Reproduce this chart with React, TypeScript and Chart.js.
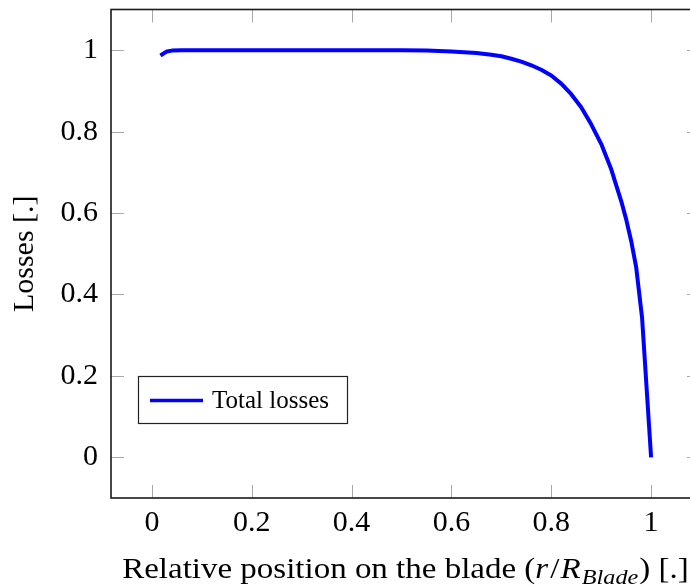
import React, { useEffect, useRef } from "react";
import { Chart, registerables } from "chart.js";

Chart.register(...registerables);

const positions = [0.017, 0.03, 0.04, 0.06, 0.1, 0.2, 0.3, 0.4, 0.5, 0.55, 0.6, 0.65, 0.68, 0.7, 0.72, 0.74, 0.76, 0.78, 0.8, 0.82, 0.84, 0.86, 0.88, 0.9, 0.92, 0.94, 0.95, 0.96, 0.97, 0.982, 1.0];
const losses = [0.987, 0.997, 0.999, 1.0, 1.0, 1.0, 1.0, 1.0, 1.0, 0.999, 0.997, 0.993, 0.989, 0.985, 0.979, 0.972, 0.963, 0.952, 0.938, 0.918, 0.892, 0.86, 0.818, 0.77, 0.708, 0.63, 0.585, 0.532, 0.468, 0.342, 0.0];
const xTicks = [0, 0.2, 0.4, 0.6, 0.8, 1];
const yTicks = [0, 0.2, 0.4, 0.6, 0.8, 1];
const seriesLabel = "Total losses";
const yTitle = "Losses [.]";

const FONT = "'Liberation Serif', 'DejaVu Serif', serif";

const framePlugin = {
  id: "frame",
  afterDraw(chart: any) {
    const { ctx, chartArea: a, scales } = chart;
    const xs = scales.x;
    const ys = scales.y;
    ctx.save();
    // inner ticks
    ctx.strokeStyle = "#a8a8a8";
    ctx.lineWidth = 1;
    const tl = 13;
    ctx.beginPath();
    for (const v of xTicks) {
      const px = Math.round(xs.getPixelForValue(v)) + 0.5;
      ctx.moveTo(px, a.bottom);
      ctx.lineTo(px, a.bottom - tl);
      ctx.moveTo(px, a.top);
      ctx.lineTo(px, a.top + tl);
    }
    for (const v of yTicks) {
      const py = Math.round(ys.getPixelForValue(v)) + 0.5;
      ctx.moveTo(a.left, py);
      ctx.lineTo(a.left + tl, py);
      ctx.moveTo(a.right, py);
      ctx.lineTo(a.right - tl, py);
    }
    ctx.stroke();
    // border
    ctx.strokeStyle = "#1a1a1a";
    ctx.lineWidth = 1.6;
    ctx.strokeRect(a.left, a.top, a.right - a.left, a.bottom - a.top);

    // legend
    const lx = a.left + 27;
    const ly = a.bottom - 122;
    const lw = 209;
    const lh = 47;
    ctx.fillStyle = "#ffffff";
    ctx.fillRect(lx, ly, lw, lh);
    ctx.strokeStyle = "#222";
    ctx.lineWidth = 1.2;
    ctx.strokeRect(lx + 0.5, ly + 0.5, lw, lh);
    ctx.strokeStyle = "#0000ff";
    ctx.lineWidth = 3.5;
    ctx.beginPath();
    ctx.moveTo(lx + 12, ly + 24.5);
    ctx.lineTo(lx + 65, ly + 24.5);
    ctx.stroke();
    ctx.fillStyle = "#000";
    ctx.font = `25px ${FONT}`;
    ctx.textBaseline = "middle";
    ctx.textAlign = "left";
    ctx.fillText(seriesLabel, lx + 74, ly + 25);

    // y title
    ctx.save();
    ctx.translate(25, (a.top + a.bottom) / 2);
    ctx.rotate(-Math.PI / 2);
    ctx.font = `30px ${FONT}`;
    ctx.textAlign = "center";
    ctx.textBaseline = "middle";
    ctx.fillText(yTitle, 0, 0);
    ctx.restore();

    // x title with math segments
    const base = 578;
    const segs: [string, string, number, number][] = [
      ["Relative position on the blade (", `30px ${FONT}`, 0, 0],
      ["r", `italic 30px ${FONT}`, 0, 2],
      ["/", `30px ${FONT}`, 0, 1],
      ["R", `italic 30px ${FONT}`, 0, 1],
      ["Blade", `italic 22px ${FONT}`, 6, 1],
      [") [.]", `30px ${FONT}`, 0, 0],
    ];
    let total = 0;
    for (const s of segs) {
      ctx.font = s[1];
      total += ctx.measureText(s[0]).width + s[3];
    }
    const target = (a.right - a.left) * 0.962;
    const k = target / total;
    const start = (a.left + a.right) / 2 - target / 2;
    ctx.translate(start, base);
    ctx.scale(k, 1);
    let cx = 0;
    ctx.textAlign = "left";
    ctx.textBaseline = "alphabetic";
    for (const s of segs) {
      ctx.font = s[1];
      ctx.fillText(s[0], cx, s[2]);
      cx += ctx.measureText(s[0]).width + s[3];
    }
    ctx.restore();
  },
};

export default function App() {
  const ref = useRef<HTMLCanvasElement>(null);
  useEffect(() => {
    if (!ref.current) return;
    const chart = new Chart(ref.current, {
      type: "line",
      data: {
        datasets: [
          {
            label: seriesLabel,
            data: positions.map((x, i) => ({ x, y: losses[i] })),
            borderColor: "#0000ff",
            borderWidth: 4,
            pointRadius: 0,
            tension: 0,
            fill: false,
            borderJoinStyle: "round",
          },
        ],
      },
      options: {
        animation: false,
        responsive: false,
        maintainAspectRatio: false,
        layout: { padding: { left: 0, top: 9.5, right: 20, bottom: 0 } },
        plugins: { legend: { display: false }, tooltip: { enabled: false } },
        scales: {
          x: {
            type: "linear",
            min: -0.082,
            max: 1.098,
            afterFit: (s: any) => {
              s.height = 87;
              s.paddingLeft = 0;
              s.paddingRight = 0;
            },
            afterBuildTicks: (s: any) => {
              s.ticks = xTicks.map((v) => ({ value: v }));
            },
            grid: { display: false, drawTicks: false },
            border: { display: false },
            ticks: {
              padding: 7,
              color: "#000",
              font: { family: FONT, size: 30 },
              callback: (v: any) => String(v),
            },
          },
          y: {
            type: "linear",
            min: -0.1,
            max: 1.1,
            afterFit: (s: any) => {
              s.width = 111;
              s.paddingTop = 0;
              s.paddingBottom = 0;
            },
            afterBuildTicks: (s: any) => {
              s.ticks = yTicks.map((v) => ({ value: v }));
            },
            grid: { display: false, drawTicks: false },
            border: { display: false },
            ticks: {
              padding: 13,
              color: "#000",
              font: { family: FONT, size: 30 },
              callback: (v: any) => String(v),
            },
          },
        },
      },
      plugins: [framePlugin],
    });
    return () => chart.destroy();
  }, []);
  return (
    <div
      style={{
        position: "fixed",
        left: 0,
        top: 0,
        width: 690,
        height: 585,
        overflow: "hidden",
        background: "#fff",
      }}
    >
      <canvas ref={ref} width={720} height={585} style={{ display: "block", width: 720, height: 585 }} />
    </div>
  );
}
